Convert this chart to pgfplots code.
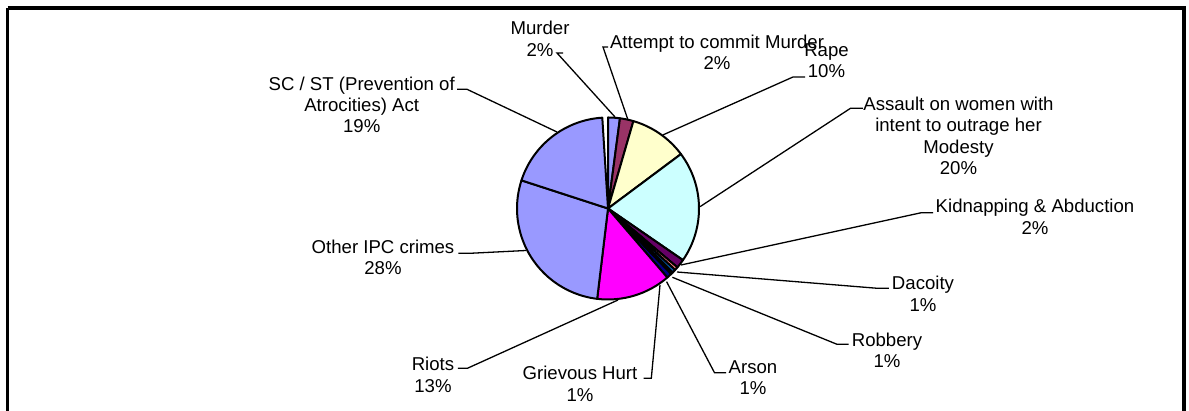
\documentclass[border=0pt]{standalone}
\usepackage{pgfplots}
\pgfplotsset{compat=1.18}
\usepackage{fontspec}
\setmainfont{Liberation Sans}

% Excel-style pie colours
\definecolor{cMurder}{HTML}{9999FF}
\definecolor{cAttempt}{HTML}{993366}
\definecolor{cRape}{HTML}{FFFFCC}
\definecolor{cAssault}{HTML}{CCFFFF}
\definecolor{cKidnap}{HTML}{660066}
\definecolor{cDacoity}{HTML}{FF8080}
\definecolor{cRobbery}{HTML}{0066CC}
\definecolor{cArson}{HTML}{CCCCFF}
\definecolor{cHurt}{HTML}{000080}
\definecolor{cRiots}{HTML}{FF00FF}
\definecolor{cOther}{HTML}{9999FF}
\definecolor{cSCST}{HTML}{9999FF}

% share of each crime head (percent), clockwise from 12 o'clock
\def\slices{2.1/cMurder, 2.4/cAttempt, 10.3/cRape, 19.8/cAssault, 1.6/cKidnap,
  0.6/cDacoity, 0.6/cRobbery, 0.4/cArson, 0.9/cHurt, 13.2/cRiots, 28.1/cOther, 19.0/cSCST}

\newcommand{\lbl}[3]{\node[align=center, inner sep=0pt,
  font=\fontsize{9.3}{10.7}\selectfont] at (axis cs:#1,#2) {#3};}
\newcommand{\lead}[6]{\draw[line width=0.65pt] (axis cs:#1,#2) -- (axis cs:#3,#2) -- (axis cs:#4,#5);}

\begin{document}
\begin{tikzpicture}
\begin{axis}[
  width=594.5pt, height=205.5pt, scale only axis,
  xmin=0, xmax=1189, ymin=0, ymax=411,
  hide axis, clip=false,
]
% frame (bottom edge runs off the picture)
\draw[line width=1.8pt] (axis cs:7.5,403) -- (axis cs:1184,403) -- (axis cs:1184,-20);
\draw[line width=1.8pt] (axis cs:7.5,403) -- (axis cs:7.5,-20);

% leader lines
\lead{563}{358}{557}{615}{294}{}
\lead{608}{364}{603}{628}{291}{}
\lead{805}{334}{793}{662.8}{276}{}
\lead{862.8}{302.7}{850.5}{700}{204.3}{}
\lead{933}{198.3}{921.4}{681}{146}{}
\lead{888.9}{122.7}{877.4}{677}{139}{}
\lead{848.6}{66.7}{837}{672.4}{133.7}{}
\lead{726}{38.3}{714.5}{666.6}{129.3}{}
\lead{643.6}{32.7}{651.3}{660}{126}{}
\lead{457.9}{42.7}{467.4}{618}{111}{}
\lead{458.3}{157.7}{470}{526}{160.5}{}
\lead{457}{321.7}{467}{557}{279}{}

% pie slices
\gdef\angA{90}
\foreach \v/\c in \slices {
  \pgfmathsetmacro{\angB}{\angA-3.6*\v}
  \edef\temp{\noexpand\filldraw[fill=\c, draw=black, line width=1pt, line join=round]
    (axis cs:608,202.5) -- ++(\angA:45.5pt) arc[start angle=\angA, end angle=\angB, radius=45.5pt] -- cycle;}
  \temp
  \xdef\angA{\angB}
}

% labels
\lbl{540}{372}{Murder\\2\%}
\lbl{717}{358.7}{Attempt to commit Murder\\2\%}
\lbl{826.5}{350}{Rape\\10\%}
\lbl{958.5}{275}{Assault on women with\\intent to outrage her\\Modesty\\20\%}
\lbl{1035}{194}{Kidnapping \& Abduction\\2\%}
\lbl{923}{117}{Dacoity\\1\%}
\lbl{887}{60.5}{Robbery\\1\%}
\lbl{753}{33.5}{Arson\\1\%}
\lbl{580}{27}{Grievous Hurt\\1\%}
\lbl{433}{36.3}{Riots\\13\%}
\lbl{383}{153.5}{Other IPC crimes\\28\%}
\lbl{361.7}{306.2}{SC / ST (Prevention of\\Atrocities) Act\\19\%}
\end{axis}
\pgfresetboundingbox
\useasboundingbox (current axis.south west) rectangle (current axis.north east);
\end{tikzpicture}
\end{document}
